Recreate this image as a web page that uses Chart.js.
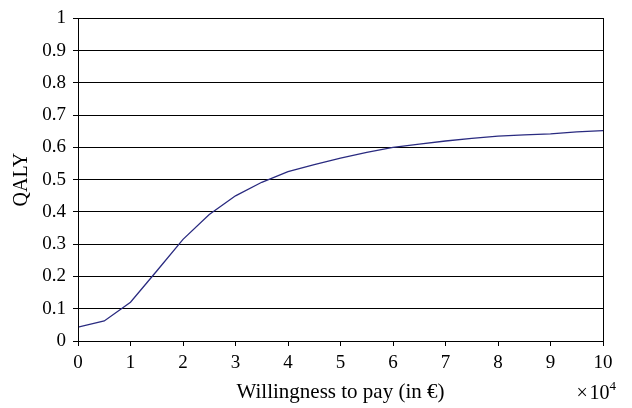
<!DOCTYPE html>
<html>
<head>
<meta charset="utf-8">
<script src="https://cdn.jsdelivr.net/npm/chart.js@4"></script>
<style>
html,body{margin:0;padding:0;background:#fff;}
#wrap{width:632px;height:408px;}
</style>
</head>
<body>
<div id="wrap"><canvas id="c" width="632" height="408"></canvas></div>
<script>
const xValues = [0,0.5,1,1.5,2,2.5,3,3.5,4,4.5,5,5.5,6,6.5,7,7.5,8,8.5,9,9.5,10];
const qaly = [0.043,0.062,0.12,0.217,0.315,0.392,0.45,0.492,0.525,0.547,0.567,0.585,0.6,0.61,0.62,0.628,0.635,0.639,0.642,0.648,0.652];
const xTitle = 'Willingness to pay (in €)';
const yTitle = 'QALY';
const xExponent = '4';

const FONT = '"Liberation Serif", "Times New Roman", serif';
const FS = 19;

const borderPlugin = {
  id: 'borderBox',
  afterDraw(chart) {
    const {ctx, chartArea: a} = chart;
    ctx.save();
    ctx.strokeStyle = '#000';
    ctx.lineWidth = 1;
    ctx.strokeRect(Math.round(a.left) + 0.5, Math.round(a.top) + 0.5, Math.round(a.right - a.left), Math.round(a.bottom - a.top));
    // multiplier label
    ctx.fillStyle = '#000';
    ctx.textBaseline = 'alphabetic';
    ctx.textAlign = 'right';
    const xr = a.right + 13;
    const base = 399;
    ctx.font = '13px ' + FONT;
    const ew = ctx.measureText(xExponent).width;
    ctx.fillText(xExponent, xr, base - 9);
    ctx.font = '20px ' + FONT;
    ctx.fillText('\u00d7\u200a10', xr - ew, base);
    ctx.restore();
  }
};

const pts = xValues.map((x, i) => ({x: x, y: qaly[i]}));

new Chart(document.getElementById('c'), {
  type: 'line',
  data: {
    datasets: [{
      data: pts,
      borderColor: '#2a2b80',
      borderWidth: 1.3,
      pointRadius: 0,
      tension: 0,
      fill: false
    }]
  },
  options: {
    responsive: false,
    animation: false,
    devicePixelRatio: 1,
    plugins: { legend: {display: false}, tooltip: {enabled: false} },
    layout: { padding: {left: 0, right: 29, top: 14, bottom: 0} },
    scales: {
      x: {
        type: 'linear',
        min: 0, max: 10,
        ticks: { stepSize: 1, color: '#000', font: {family: FONT, size: FS}, padding: 6, maxRotation: 0,
          callback: v => String(v) },
        grid: { drawOnChartArea: false, drawTicks: true, tickLength: 5, color: '#000' },
        border: { display: true, color: '#000', width: 1 },
        title: { display: true, text: xTitle, color: '#000', font: {family: FONT, size: 21}, padding: {top: 0, bottom: 3} },
        afterFit(s) { s.height = 67; }
      },
      y: {
        min: 0, max: 1,
        ticks: { stepSize: 0.1, color: '#000', font: {family: FONT, size: FS}, padding: 7,
          callback: v => String(Math.round(v * 10) / 10) },
        grid: { color: '#000', drawTicks: true, tickLength: 5, lineWidth: 1 },
        border: { display: true, color: '#000', width: 1 },
        title: { display: true, text: yTitle, color: '#000', font: {family: FONT, size: 20}, padding: {top: 10, bottom: 0} },
        afterFit(s) { s.width = 78; }
      }
    }
  },
  plugins: [borderPlugin]
});
</script>
</body>
</html>
